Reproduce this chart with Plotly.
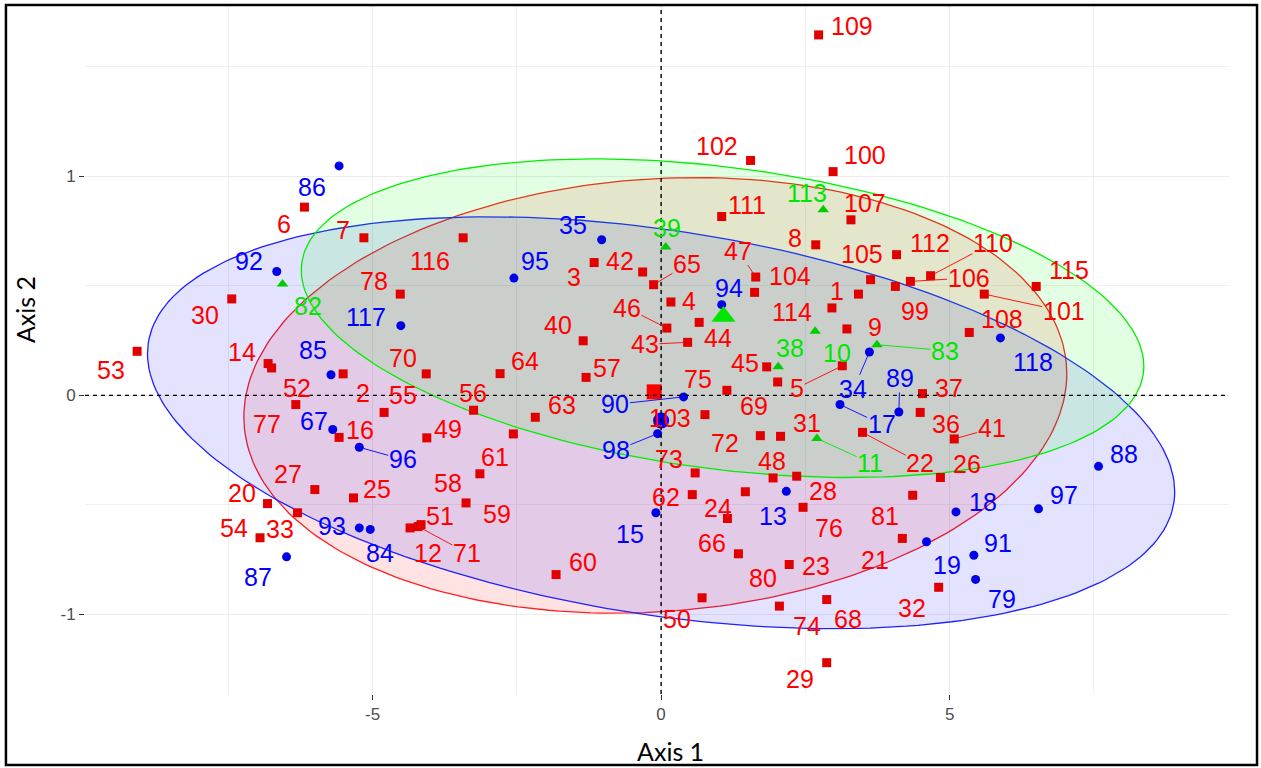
import numpy as np
import plotly.graph_objects as go

# ---------------- data ----------------
red_id = [1, 2, 3, 4, 5, 6, 7, 8, 9, 12, 14, 16, 20, 21, 22, 23, 24, 25, 26, 27, 28, 29, 30, 31, 32, 33,
          36, 37, 40, 41, 42, 43, 44, 45, 46, 47, 48, 49, 50, 51, 52, 53, 54, 55, 56, 57, 58, 59, 60, 61,
          62, 63, 64, 65, 66, 68, 69, 70, 71, 72, 73, 74, 75, 76, 77, 78, 80, 81, 99, 100, 101, 102, 103,
          104, 105, 106, 107, 108, 109, 110, 111, 112, 114, 115, 116]
red_x = [3.42, -5.51, -1.16, 0.17, 3.14, -6.18, -5.15, 2.68, 3.22, -4.35, -6.81, -5.58, -6.82, 4.18, 3.49,
         2.22, 1.46, -5.33, 4.84, -6.00, 2.35, 2.87, -7.44, 2.07, 4.81, -6.30,
         4.49, 4.53, -1.35, 5.08, -0.32, 0.46, 0.66, 1.83, 0.10, 1.64, 1.94, -4.06, 0.71, -4.16, -6.75,
         -9.08, -6.95, -4.80, -3.25, -1.30, -3.14, -3.38, -1.82, -2.56,
         0.54, -2.18, -2.79, -0.13, 1.15, 2.87, 2.02, -4.07, -4.21, 1.72, 0.59, 2.05, 1.14, 2.46, -6.33,
         -4.52, 1.34, 4.36, 4.06, 2.98, 5.60, 1.55, 0.76,
         1.62, 3.63, 4.32, 3.29, 5.34, 2.73, 4.67, 1.05, 4.08, 2.96, 6.50, -3.43]
red_y = [0.462, 0.098, 0.606, 0.426, 0.135, 0.859, 0.719, 0.687, 0.303, -0.605, 0.145, -0.192, -0.494,
         -0.653, -0.169, -0.772, -0.440, -0.468, -0.375, -0.430, -0.369, -1.220, 0.440, -0.187, -0.876,
         -0.536,
         -0.078, 0.008, 0.249, -0.199, 0.563, 0.242, 0.333, 0.130, 0.307, 0.540, -0.377, -0.194, -0.924,
         -0.590, 0.125, 0.201, -0.650, -0.078, -0.068, 0.082, -0.358, -0.491, -0.818, -0.176,
         -0.453, -0.100, 0.099, 0.505, -0.562, -0.932, 0.061, 0.098, -0.599, -0.184, -0.354, -0.962,
         0.023, -0.511, -0.042, 0.462, -0.723, -0.456, 0.497, 1.021, 0.462, 1.072, -0.088,
         0.470, 0.528, 0.520, 0.801, 0.287, 1.645, 0.546, 0.816, 0.642, 0.399, 0.497, 0.719]

blue_id = [13, 15, 17, 18, 19, 34, 35, 67, 79, 84, 85, 86, 87, 88, 89, 90, 91, 92, 93, 94, 95, 96, 97,
           98, 117, 118]
blue_x = [2.17, -0.09, 3.10, 5.11, 4.60, 3.61, -1.03, -5.69, 5.45, -5.04, -5.72, -5.58, -6.49, 7.58,
          4.12, 0.39, 5.42, -6.66, -5.23, 1.05, -2.55, -5.23, 6.54, -0.06, -4.51, 5.88]
blue_y = [-0.438, -0.536, -0.042, -0.532, -0.668, 0.198, 0.710, -0.156, -0.840, -0.612, 0.094, 1.047,
          -0.737, -0.324, -0.076, -0.007, -0.730, 0.565, -0.605, 0.414, 0.535, -0.237, -0.518, -0.175,
          0.318, 0.262]

green_id = [10, 11, 38, 39, 82, 83, 113]
green_x = [2.67, 2.70, 2.03, 0.08, -6.56, 3.74, 2.81]
green_y = [0.292, -0.197, 0.130, 0.677, 0.508, 0.231, 0.847]

# group centroids (red, blue, green)
centroid_x = [-0.12, 0.00, 1.08]
centroid_y = [0.016, -0.115, 0.360]

# confidence ellipses (red, blue, green): centre, spread along axes, correlation
ell_cx = [-0.10, 0.00, 1.065]
ell_cy = [0.000, -0.125, 0.352]
ell_sx = [7.13, 8.90, 7.30]
ell_sy = [0.994, 0.940, 0.727]
ell_rho = [0.099, -0.335, -0.301]

x_ticks = [-5, 0, 5]
x_tick_text = ["-5", "0", "5"]
y_ticks = [-1, 0, 1]
y_tick_text = ["-1", "0", "1"]

# ---------------- label placement (pixel offsets of repelled labels) ----------------
label_offset = {
    1: (-21.6, -5), 2: (19.4, 17.4), 3: (-19.7, 13.3), 4: (17.6, -2.3), 5: (-45.3, 20.7),
    6: (-20.7, 15), 7: (-20.7, -9), 8: (-20.7, -8.3), 9: (28.3, -3.3), 12: (18.3, 23.4),
    14: (-26, -13), 16: (20.7, -9.4), 20: (-25.6, -12.3), 21: (-27.3, 20.3), 22: (57.7, 29),
    23: (26.7, 0), 24: (-27.3, 14.4), 25: (23.4, -10), 26: (26.7, -15.3), 27: (-26.7, -16.7),
    28: (26, 13.3), 29: (-26.7, 15), 30: (-26.7, 14.7), 31: (26, -15), 32: (-26.6, 19),
    33: (-17.3, 15), 36: (26, 10), 37: (26, -7.3), 40: (-25, -17.7), 41: (37.4, -12),
    42: (-22.3, -12.3), 43: (-42.7, 0.6), 44: (19, 14), 45: (-21.7, -5.6), 46: (-40, -21.6),
    47: (-17.4, -28), 48: (-1, -18.3), 49: (21.6, -10.6), 50: (-25, 20), 51: (19, -10),
    52: (25.6, 18.4), 53: (-26.6, 17.6), 54: (-26, -11), 55: (18.4, -18.7), 56: (-0.3, -19),
    57: (20.7, -10.4), 58: (-31.7, 7.4), 59: (30.7, 9.4), 60: (26.6, -14), 61: (-18.3, 21.7),
    62: (-26.3, 1), 63: (26.7, -13.4), 64: (25, -14), 65: (33.4, -21.7), 66: (-15.6, 22.7),
    68: (21.6, 18.3), 69: (-24, 22.7), 70: (-23.3, -17.6), 71: (48.7, 24.7), 72: (-35, 5.7),
    73: (-25.7, -15), 74: (27.4, 18.3), 75: (-28.4, -12.4), 76: (25.6, 19), 77: (-29.3, 17.7),
    78: (-26.7, -15), 80: (24.4, 22.4), 81: (-27.7, 19.3), 99: (20, 23.3), 100: (32.3, -17.7),
    101: (79.3, 15.7), 102: (-34, -15.7), 103: (-35, 1.7), 104: (35.7, -17.7), 105: (-9, -26.7),
    106: (58.3, -5), 107: (14.3, -18.3), 108: (32.7, -15.4), 109: (33.7, -10), 110: (62.3, -34.3),
    111: (25, -13.4), 112: (33.3, -13.3), 114: (-40, 2.4), 115: (32.3, -18.4), 116: (-33, 22),
    13: (-13.7, 23.3), 15: (-26, 19.4), 17: (41.7, 18.3), 18: (26.7, -11.6), 19: (20, 21.7),
    34: (-16, 36), 35: (-28.4, -16.7), 67: (-18.7, -10), 79: (26, 18.3), 84: (10, 21.7),
    85: (-18.3, -26.7), 86: (-26.6, 19.7), 87: (-28.4, 18.7), 88: (25, -13.4), 89: (1, -35.6),
    90: (-68.3, 6), 91: (24.3, -14), 92: (-27.4, -11.7), 93: (-27, -3.3), 94: (7.6, -18.3),
    95: (21, -18.3), 96: (43.4, 10.6), 97: (25.7, -15.3), 98: (-41.7, 15.3), 117: (-34.7, -10),
    118: (32.7, 22.4),
    10: (21.7, 20), 11: (53.3, 22.7), 38: (11.7, -20), 39: (1, -20.6), 82: (25.6, 20.7),
    83: (68.3, 4.3), 113: (-16.6, -18.3),
}
segment_ids = {5, 22, 41, 43, 46, 47, 65, 71, 101, 106, 110, 17, 34, 89, 90, 96, 98, 11, 83}

# ---------------- styles ----------------
groups = [
    dict(ids=red_id, x=red_x, y=red_y, symbol="square", size=9, mcol="#E00000", lcol="#FF0000",
         fill="rgba(255,0,0,0.11)", line="#FF2020", csize=15),
    dict(ids=blue_id, x=blue_x, y=blue_y, symbol="circle", size=9, mcol="#0000E6", lcol="#0000FF",
         fill="rgba(0,0,255,0.11)", line="#2020FF", csize=16),
    dict(ids=green_id, x=green_x, y=green_y, symbol="triangle-up", size=10, mcol="#00CC00", lcol="#00E600",
         fill="rgba(0,255,0,0.11)", line="#00EE00", csize=21),
]

fig = go.Figure()

t = np.linspace(0, 2 * np.pi, 241)
for i, g in enumerate(groups):
    ex = ell_cx[i] + ell_sx[i] * np.cos(t)
    ey = ell_cy[i] + ell_sy[i] * (ell_rho[i] * np.cos(t) + np.sqrt(1 - ell_rho[i] ** 2) * np.sin(t))
    fig.add_trace(go.Scatter(x=ex, y=ey, mode="lines", fill="toself", fillcolor=g["fill"],
                             line=dict(color=g["line"], width=1.3), hoverinfo="skip", showlegend=False))

for i, g in enumerate(groups):
    fig.add_trace(go.Scatter(x=g["x"], y=g["y"], mode="markers",
                             marker=dict(symbol=g["symbol"], size=g["size"], color=g["mcol"], line=dict(width=0)),
                             showlegend=False))

for i, g in enumerate(groups):
    fig.add_trace(go.Scatter(x=[centroid_x[i]], y=[centroid_y[i]], mode="markers",
                             marker=dict(symbol=g["symbol"], size=g["csize"], color=g["lcol"], line=dict(width=0)),
                             showlegend=False))

annotations = []
for g in groups:
    for pid, px, py in zip(g["ids"], g["x"], g["y"]):
        dx, dy = label_offset[pid]
        seg = pid in segment_ids
        annotations.append(dict(
            x=px, y=py, xref="x", yref="y", text=str(pid), showarrow=True,
            ax=dx, ay=dy + 1.5, axref="pixel", ayref="pixel",
            arrowhead=0, arrowwidth=0.9, standoff=4 if seg else 0,
            arrowcolor=g["lcol"] if seg else "rgba(0,0,0,0)",
            font=dict(family="Liberation Sans, Arial, sans-serif", size=25, color=g["lcol"]),
            borderpad=0,
        ))

annotations.append(dict(text="Axis 1", x=0.5114, y=-0.0826, xref="paper", yref="paper", showarrow=False,
                        font=dict(family="Lato, sans-serif", size=25, color="black"),
                        xanchor="center", yanchor="middle"))
annotations.append(dict(text="Axis 2", x=-0.0524, y=0.5565, xref="paper", yref="paper", showarrow=False,
                        textangle=-90, font=dict(family="Lato, sans-serif", size=25, color="black"),
                        xanchor="center", yanchor="middle"))

shapes = [
    dict(type="line", xref="x", yref="paper", x0=0, x1=0, y0=0, y1=1, layer="above",
         line=dict(color="black", width=1.4, dash="4px,4px")),
    dict(type="line", xref="paper", yref="y", x0=0, x1=1, y0=0, y1=0, layer="above",
         line=dict(color="black", width=1.4, dash="4px,4px")),
    dict(type="rect", xref="paper", yref="paper", x0=-0.0691, x1=1.0245, y0=-0.1029, y1=0.9986,
         line=dict(color="black", width=2.5), fillcolor="rgba(0,0,0,0)", layer="above"),
]

axis_common = dict(showgrid=True, gridcolor="#EBEBEB", gridwidth=1.1, zeroline=False, showline=False,
                   ticks="outside", ticklen=5, tickwidth=1, tickcolor="#333333",
                   tickfont=dict(family="Liberation Sans, Arial, sans-serif", size=17, color="#4D4D4D"),
                   tickmode="array")

fig.update_layout(
    width=1261, height=768,
    margin=dict(l=85, r=32, t=4, b=74),
    paper_bgcolor="white", plot_bgcolor="white",
    showlegend=False,
    xaxis=dict(range=[-9.983, 9.841], tickvals=x_ticks, ticktext=x_tick_text,
               minor=dict(tickvals=[-7.5, -2.5, 2.5, 7.5], showgrid=True, gridcolor="#F0F0F0", ticks=""),
               **axis_common),
    yaxis=dict(range=[-1.363, 1.786], tickvals=y_ticks, ticktext=y_tick_text,
               minor=dict(tickvals=[-0.5, 0.5, 1.5], showgrid=True, gridcolor="#F0F0F0", ticks=""),
               **axis_common),
    annotations=annotations,
    shapes=shapes,
)

fig.write_html("out.html", config={"displayModeBar": False},
               post_script="document.body.style.margin='0px';")
